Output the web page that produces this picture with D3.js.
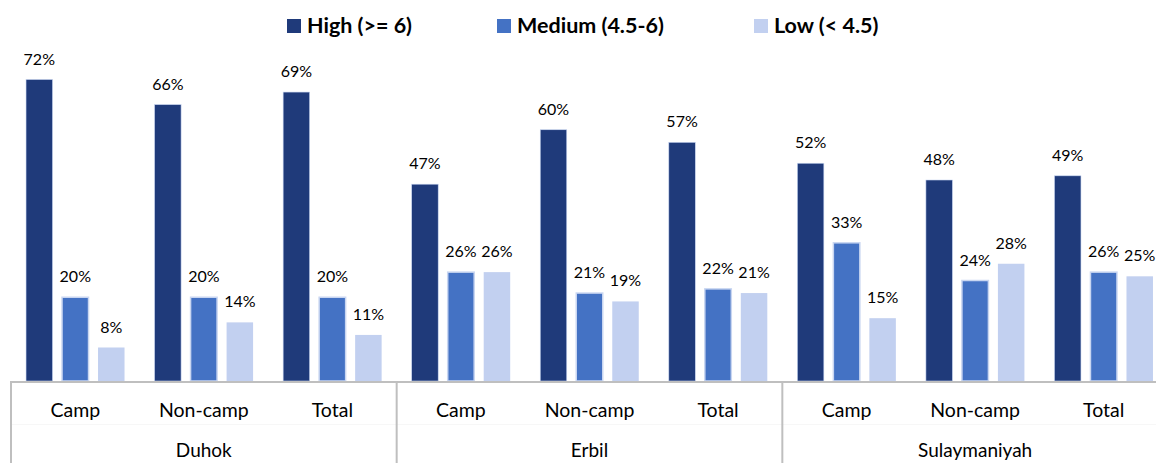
<!DOCTYPE html>
<html>
<head>
<meta charset="utf-8">
<script src="https://cdn.jsdelivr.net/npm/d3@7"></script>
<style>
  html, body { margin: 0; padding: 0; background: #fff; }
  svg { display: block; font-family: Lato, "Open Sans", sans-serif; }
</style>
</head>
<body>
<svg id="chart" width="1156" height="463"></svg>
<script>
const regions = ["Duhok", "Erbil", "Sulaymaniyah"];
const subCategories = ["Camp", "Non-camp", "Total"];
const seriesNames = ["High (>= 6)", "Medium (4.5-6)", "Low (< 4.5)"];
const highValues = [72, 66, 69, 47, 60, 57, 52, 48, 49];
const mediumValues = [20, 20, 20, 26, 21, 22, 33, 24, 26];
const lowValues = [8, 14, 11, 26, 19, 21, 15, 28, 25];
const colors = ["#1F3A7A", "#4472C4", "#C2D0F0"];

const svg = d3.select("#chart");
const baseY = 381;

const cats = [];
regions.forEach(r => subCategories.forEach(s => cats.push(r + "|" + s)));
const seriesVals = [highValues, mediumValues, lowValues];

const x = d3.scaleBand().domain(cats).range([11, 1168]).padding(0);
const y = d3.scaleLinear().domain([0, 72]).range([baseY, 79.5]);
const inner = d3.scaleBand().domain(seriesNames).range([-49.25, 49.25]).paddingInner(0.264).paddingOuter(0);

// bars
cats.forEach((c, i) => {
  const cx = x(c) + x.bandwidth() / 2;
  const g = svg.append("g").attr("transform", `translate(${cx},0)`);
  seriesNames.forEach((s, k) => {
    const v = seriesVals[k][i];
    g.append("rect")
      .attr("x", inner(s))
      .attr("y", y(v))
      .attr("width", inner.bandwidth())
      .attr("height", baseY - y(v))
      .attr("fill", colors[k])
      .attr("stroke", k === 2 ? "none" : "#C9D6F1")
      .attr("stroke-width", k === 0 ? 0.6 : 1.5);
    g.append("text")
      .attr("x", inner(s) + inner.bandwidth() / 2)
      .attr("y", y(v) - 15)
      .attr("text-anchor", "middle")
      .attr("font-size", 16)
      .attr("fill", "#000")
      .text(v + "%");
  });
});

// axis line
svg.append("line").attr("x1", 10).attr("x2", 1156).attr("y1", baseY + 1).attr("y2", baseY + 1)
  .attr("stroke", "#BFBFBF").attr("stroke-width", 2);

// faint divider between category row and region row
svg.append("line").attr("x1", 11).attr("x2", 1156).attr("y1", 424.5).attr("y2", 424.5)
  .attr("stroke", "#F7F7F7").attr("stroke-width", 1);

// region separators
regions.forEach((r, ri) => {
  const xs = x(r + "|" + subCategories[0]);
  svg.append("line").attr("x1", xs).attr("x2", xs).attr("y1", baseY).attr("y2", 463)
    .attr("stroke", "#BFBFBF").attr("stroke-width", 2);
  const xe = x(r + "|" + subCategories[2]) + x.bandwidth();
  svg.append("text")
    .attr("x", (xs + xe) / 2)
    .attr("y", 457)
    .attr("text-anchor", "middle")
    .attr("font-size", 19)
    .attr("fill", "#000")
    .text(r);
});

// category labels
cats.forEach(c => {
  svg.append("text")
    .attr("x", x(c) + x.bandwidth() / 2)
    .attr("y", 417)
    .attr("text-anchor", "middle")
    .attr("font-size", 19.5)
    .attr("fill", "#000")
    .text(c.split("|")[1]);
});

// legend
const legendX = [287, 497, 754];
seriesNames.forEach((s, k) => {
  svg.append("rect").attr("x", legendX[k]).attr("y", 19).attr("width", 14).attr("height", 14)
    .attr("fill", colors[k]);
  svg.append("text")
    .attr("x", legendX[k] + 20)
    .attr("y", 33)
    .attr("font-size", 21.5)
    .attr("font-weight", "bold")
    .attr("fill", "#000")
    .text(s);
});
</script>
</body>
</html>
